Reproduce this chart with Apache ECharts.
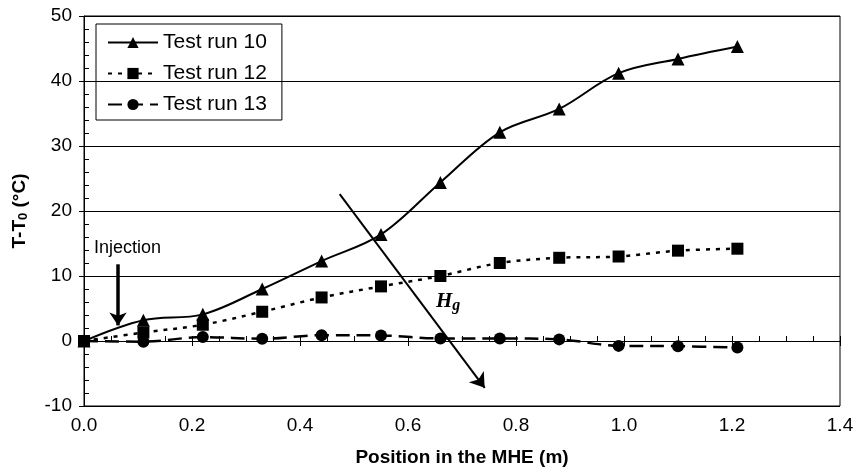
<!DOCTYPE html>
<html>
<head>
<meta charset="utf-8">
<script src="https://cdn.jsdelivr.net/npm/echarts@6/dist/echarts.min.js"></script>
<style>html,body{margin:0;padding:0;background:#fff;}#c{width:859px;height:472px;}</style>
</head>
<body>
<div id="c"></div>
<script>
const xValues = [0, 0.11, 0.22, 0.33, 0.44, 0.55, 0.66, 0.77, 0.88, 0.99, 1.10, 1.21];
const run10 = [0, 3.2, 4.1, 8.0, 12.3, 16.4, 24.4, 32.1, 35.7, 41.2, 43.4, 45.3];
const run12 = [0, 1.3, 2.5, 4.5, 6.7, 8.4, 10.0, 12.0, 12.8, 13.0, 13.9, 14.2];
const run13 = [0, -0.1, 0.6, 0.35, 0.9, 0.85, 0.4, 0.4, 0.25, -0.75, -0.8, -1.0];
const seriesNames = ['Test run 10', 'Test run 12', 'Test run 13'];
const xTicks = { min: 0, max: 1.4, step: 0.2, minor: 0.05 };
const yTicks = { min: -10, max: 50, step: 10, minor: 2 };
const hgArrow = [[0.4735, 22.6], [0.742, -7.2]];
const injArrow = [[0.063, 11.8], [0.063, 2.4]];

const pts = arr => xValues.map((x, i) => [x, arr[i]]);
const FONT = 'Liberation Sans';
const chart = echarts.init(document.getElementById('c'), null, { renderer: 'canvas' });

function arrowLine(a, b, w, size) {
  return {
    silent: true,
    symbol: ['none', 'arrow'],
    symbolSize: size,
    label: { show: false },
    emphasis: { disabled: true },
    lineStyle: { color: '#000', width: w, type: 'solid' },
    data: [[{ coord: a }, { coord: b }]]
  };
}

chart.setOption({
  animation: false,
  backgroundColor: '#fff',
  textStyle: { fontFamily: FONT, color: '#000' },
  grid: { left: 84, right: 19, top: 16, bottom: 63.5, show: true, borderColor: '#000', borderWidth: 1, backgroundColor: 'transparent' },
  legend: {
    left: 96, top: 24, orient: 'vertical',
    borderColor: '#000', borderWidth: 1, borderRadius: 0,
    padding: [8, 15, 5, 11],
    itemWidth: 50, itemHeight: 14, itemGap: 10,
    textStyle: { fontSize: 21, color: '#000', fontFamily: FONT },
    data: seriesNames
  },
  xAxis: [{
    type: 'value', min: xTicks.min, max: xTicks.max, interval: xTicks.step,
    name: 'Position in the MHE (m)', nameLocation: 'middle', nameGap: 42,
    nameTextStyle: { fontSize: 19, fontWeight: 'bold', color: '#000', fontFamily: FONT },
    axisLine: { show: true, lineStyle: { color: '#000', width: 1 } },
    axisTick: { show: true, inside: false, length: 5, lineStyle: { color: '#000' } },
    axisLabel: { fontSize: 19, color: '#000', margin: 10, formatter: v => v.toFixed(1) },
    splitLine: { show: false }
  }, {
    type: 'value', min: xTicks.min, max: xTicks.max, interval: xTicks.minor, position: 'bottom', gridIndex: 0,
    axisLine: { show: false }, axisLabel: { show: false }, splitLine: { show: false },
    axisTick: { show: true, inside: true, length: 5, lineStyle: { color: '#000' } }
  }],
  yAxis: [{
    type: 'value', min: yTicks.min, max: yTicks.max, interval: yTicks.step,
    name: 'T-T{sub|0} (°C)', nameLocation: 'middle', nameGap: 54, nameRotate: 90,
    nameTextStyle: { fontSize: 19, fontWeight: 'bold', color: '#000', fontFamily: FONT,
      rich: { sub: { fontSize: 13, fontWeight: 'bold', verticalAlign: 'bottom', padding: [8, 0, 0, 0], fontFamily: FONT } } },
    axisLine: { show: true, lineStyle: { color: '#000', width: 1 } },
    axisTick: { show: true, inside: false, length: 5, lineStyle: { color: '#000' } },
    axisLabel: { fontSize: 19, color: '#000', margin: 12 },
    splitLine: { show: true, lineStyle: { color: '#000', width: 1 } }
  }, {
    type: 'value', min: yTicks.min, max: yTicks.max, interval: yTicks.minor, position: 'left', gridIndex: 0,
    axisLine: { show: false }, axisLabel: { show: false }, splitLine: { show: false },
    axisTick: { show: true, inside: true, length: 5, lineStyle: { color: '#000' } }
  }],
  series: [{
    name: seriesNames[0], type: 'line', data: pts(run10), smooth: 0.35,
    symbol: 'triangle', symbolSize: 13,
    itemStyle: { color: '#000' }, lineStyle: { color: '#000', width: 2, type: 'solid' },
    markLine: arrowLine(hgArrow[0], hgArrow[1], 2, 14),
    z: 3
  }, {
    name: seriesNames[1], type: 'line', data: pts(run12), smooth: 0.35,
    symbol: 'rect', symbolSize: 12,
    itemStyle: { color: '#000' }, lineStyle: { color: '#000', width: 2.5, type: [4, 6] },
    markLine: arrowLine(injArrow[0], injArrow[1], 3.5, 13),
    z: 4
  }, {
    name: seriesNames[2], type: 'line', data: pts(run13), smooth: 0.35,
    symbol: 'circle', symbolSize: 12,
    itemStyle: { color: '#000' }, lineStyle: { color: '#000', width: 2.5, type: [14, 7] },
    z: 2
  }],
  graphic: [{
    type: 'text', left: 94, top: 239,
    style: { text: 'Injection', font: '18px "Liberation Sans"', fill: '#000' }
  }, {
    type: 'text', left: 436, top: 291,
    style: {
      text: '{h|H}{g|g}',
      rich: {
        h: { font: 'italic bold 21px "Liberation Serif"', fill: '#000' },
        g: { font: 'italic bold 16px "Liberation Serif"', fill: '#000', padding: [8, 0, 0, 0] }
      }
    }
  }]
});
</script>
</body>
</html>
